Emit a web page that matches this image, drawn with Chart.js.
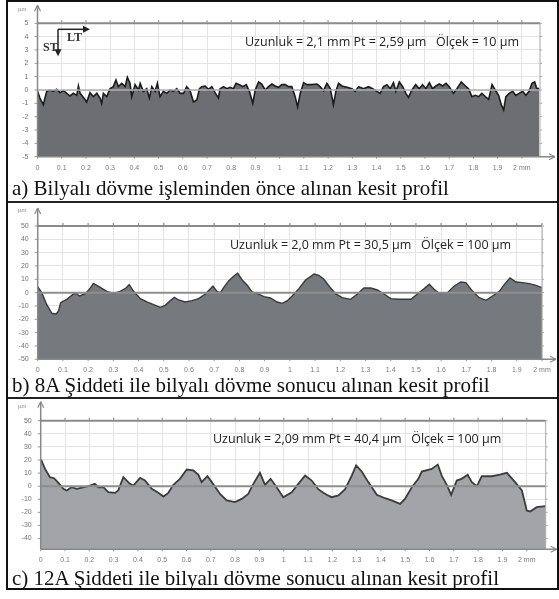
<!DOCTYPE html>
<html lang="tr">
<head>
<meta charset="utf-8">
<title>Kesit profilleri</title>
<script src="https://cdn.jsdelivr.net/npm/chart.js@4.4.1/dist/chart.umd.min.js"></script>
<style>
  html, body { margin: 0; padding: 0; background: #fff; }
  #page { position: relative; width: 559px; height: 599px; overflow: hidden; background: #fff; }
  .frame { position: absolute; left: 6px; top: 0; width: 549px; height: 586px; border: 2px solid #111; box-sizing: content-box; }
  .sep { position: absolute; left: 8px; width: 549px; height: 2px; background: #222; }
  .panel { position: absolute; left: 8px; }
  .cap { position: absolute; left: 12px; font-family: 'Liberation Serif', 'Times New Roman', serif; font-size: 21px; line-height: 21px; color: #111; white-space: nowrap; }
  .note { position: absolute; font-family: 'Open Sans', 'Noto Sans', sans-serif; font-size: 12.5px; line-height: 16px; color: #222; white-space: nowrap; }
  .unit { position: absolute; left: 18px; font-family: 'Liberation Sans', Arial, sans-serif; font-size: 6px; line-height: 6px; color: #888; }
  .dir { position: absolute; font-family: 'Liberation Serif', 'Times New Roman', serif; font-size: 12px; line-height: 12px; font-weight: bold; color: #333; }
</style>
</head>
<body>
<div id="page">
  <div class="frame"></div>
  <div class="sep" style="top:201px"></div>
  <div class="sep" style="top:397px"></div>

  <div class="panel" style="top:3px"><canvas id="chartA" width="550" height="172"></canvas></div>
  <div class="panel" style="top:204px"><canvas id="chartB" width="550" height="170"></canvas></div>
  <div class="panel" style="top:400px"><canvas id="chartC" width="550" height="168"></canvas></div>

  <div class="unit" style="top:6px">µm</div>
  <div class="unit" style="top:207px">µm</div>
  <div class="unit" style="top:403px">µm</div>

  <div class="dir" style="left:43px;top:41px">ST</div>
  <div class="dir" style="left:67px;top:31px">LT</div>

  <div class="note" style="left:245px;top:34px">Uzunluk = 2,1 mm Pt = 2,59 µm&nbsp;&nbsp; Ölçek = 10 µm</div>
  <div class="note" style="left:230px;top:237px">Uzunluk = 2,0 mm Pt = 30,5 µm&nbsp;&nbsp; Ölçek = 100 µm</div>
  <div class="note" style="left:213px;top:431px">Uzunluk = 2,09 mm Pt = 40,4 µm&nbsp;&nbsp; Ölçek = 100 µm</div>

  <div class="cap" style="top:178px">a) Bilyalı dövme işleminden önce alınan kesit profil</div>
  <div class="cap" style="top:375px">b) 8A Şiddeti ile bilyalı dövme sonucu alınan kesit profil</div>
  <div class="cap" style="top:568px">c) 12A Şiddeti ile bilyalı dövme sonucu alınan kesit profil</div>
</div>

<script>
// Position along the trace (mm) and surface height (µm) for each profile.
const profileA_mm = [0.000,0.010,0.024,0.038,0.052,0.065,0.079,0.093,0.107,0.121,0.134,0.148,0.162,0.169,0.176,0.189,0.203,0.217,0.231,0.245,0.258,0.265,0.272,0.286,0.300,0.313,0.324,0.334,0.348,0.362,0.371,0.382,0.389,0.403,0.417,0.424,0.437,0.451,0.462,0.472,0.486,0.495,0.506,0.520,0.534,0.548,0.561,0.575,0.589,0.603,0.616,0.630,0.644,0.658,0.669,0.678,0.692,0.706,0.720,0.733,0.747,0.754,0.768,0.782,0.795,0.809,0.820,0.834,0.848,0.862,0.875,0.889,0.899,0.913,0.926,0.940,0.954,0.968,0.981,0.995,1.009,1.023,1.036,1.050,1.064,1.074,1.085,1.099,1.112,1.133,1.154,1.167,1.181,1.195,1.209,1.222,1.232,1.243,1.257,1.278,1.298,1.312,1.326,1.346,1.367,1.384,1.401,1.415,1.429,1.443,1.457,1.470,1.480,1.494,1.508,1.521,1.532,1.546,1.562,1.576,1.590,1.604,1.618,1.631,1.645,1.659,1.673,1.687,1.700,1.718,1.732,1.750,1.767,1.780,1.794,1.808,1.822,1.835,1.849,1.863,1.877,1.890,1.904,1.915,1.925,1.934,1.948,1.962,1.975,1.989,2.003,2.017,2.030,2.042,2.053,2.062,2.072];
const profileA_um = [-0.1,-0.6,-1.1,-0.1,0,-0.1,0.05,-0.2,-0.05,-0.25,-0.45,-0.25,-0.4,0.3,-0.25,-0.55,-0.9,-0.2,-0.5,-0.25,-0.6,-1.0,-0.25,-0.5,0.1,0.25,0.75,0.25,0.5,0.25,0.95,0.5,-0.5,0.4,0,0.5,-0.1,0.1,-0.6,0.25,-0.1,0.5,-0.5,-0.1,-0.25,0,-0.1,0.1,-0.25,-0.25,0.25,-0.05,-0.9,-0.75,0.1,0.25,0.3,0.05,0.25,-0.2,-0.6,0.1,0.25,0.1,0.2,0.1,0.5,0.4,0.25,0.4,-0.1,-1.0,0,0.6,0.45,0,0.25,0.45,0.3,0.2,0.4,0.4,0.25,0.25,-0.5,-1.25,-0.25,0.55,0.4,0.4,0.45,0.25,-0.05,0.5,0.1,-1.1,-0.1,0.5,0.3,0.2,0.1,-0.1,0.25,0.1,0.25,0.1,-0.1,-0.25,0.25,0.4,0.1,0.55,-0.1,0.6,0.25,-0.25,-0.55,0,0.4,0.1,0.4,0.1,0.55,0.1,0.3,0.45,0.3,0.5,0.25,-0.25,0.1,0.6,0.3,0.1,-0.5,-0.4,-0.5,-0.25,-0.5,-0.7,0.4,0,-0.4,-1.1,-1.5,-0.5,-0.25,-0.1,-0.4,-0.25,-0.1,-0.4,-0.1,0.5,0.6,0.1,0.1];

const profileB_mm = [0.000,0.016,0.036,0.056,0.073,0.082,0.091,0.115,0.142,0.152,0.165,0.188,0.205,0.221,0.248,0.274,0.301,0.327,0.347,0.363,0.380,0.407,0.433,0.460,0.486,0.506,0.526,0.542,0.559,0.585,0.612,0.638,0.665,0.695,0.711,0.725,0.738,0.758,0.778,0.793,0.811,0.831,0.850,0.870,0.897,0.923,0.950,0.970,0.990,1.009,1.036,1.062,1.082,1.096,1.115,1.135,1.155,1.182,1.208,1.241,1.268,1.294,1.321,1.347,1.374,1.400,1.433,1.480,1.506,1.533,1.553,1.572,1.592,1.625,1.652,1.678,1.698,1.725,1.751,1.778,1.804,1.831,1.851,1.873,1.897,1.923,1.950,1.976,2.000];
const profileB_um = [4.5,0,-9,-15.5,-16,-14,-7.5,-5,-1,-0.5,-2.5,-1,2.5,7,4,1,-0.5,1,3,6,1,-4.5,-7,-9,-11,-9.5,-6,-3.5,-5.5,-7,-6,-4.5,-1,5,1,0,4,9,12.5,14.5,9.5,5.5,0.5,-0.5,-3,-4,-7,-8,-6,-2.5,3,9.5,12,14,13,10,5,-1,-3.75,-5,-1,3.5,3.5,2,-1,-4.5,-5,-5,-1,3,6.25,2.5,-0.5,0,5,8,7.5,1,-3.75,-5.75,-2.5,1,6.25,11,8,7.5,6.75,5.5,3.75];

const profileC_mm = [0.001,0.018,0.038,0.055,0.073,0.093,0.107,0.127,0.148,0.175,0.203,0.223,0.237,0.258,0.278,0.306,0.319,0.340,0.367,0.381,0.409,0.429,0.457,0.484,0.505,0.525,0.546,0.573,0.601,0.628,0.649,0.662,0.686,0.704,0.738,0.765,0.800,0.827,0.854,0.875,0.902,0.923,0.946,0.971,0.998,1.033,1.060,1.088,1.115,1.143,1.163,1.177,1.197,1.225,1.252,1.280,1.298,1.321,1.348,1.383,1.417,1.444,1.479,1.499,1.527,1.554,1.568,1.609,1.634,1.650,1.671,1.689,1.712,1.732,1.757,1.774,1.795,1.815,1.856,1.890,1.918,1.952,1.980,2.000,2.014,2.041,2.078];
const profileC_um = [20.4,13.2,6.9,6.1,2.5,-2,-3.3,-0.8,-2,-1,0.5,1.8,-0.8,-0.8,-4.6,-5.1,-3.3,6.9,1.8,0.5,6.4,4.3,-2,-5.1,-7.9,-5.1,1,5.6,12.7,12,8.7,3.1,7.6,3.1,-5.9,-10.9,-12.2,-9.7,-5.9,1.8,10.2,1,5.6,-0.8,-8.4,-4.6,1.8,8.1,4.3,-2.5,-5.1,-6.6,-8.4,-7.1,-2.5,8.1,15.8,11.2,3.1,-6.6,-9.2,-10.9,-13.5,-9.7,-0.8,5.6,11.2,13.2,16.5,8.1,1,-6.6,4.3,5.6,8.7,3.1,0,7.6,7.6,8.9,10.2,3.1,-3.3,-18.6,-19.3,-16,-15.3];

// Axis ticks
const xTicksMm = [0,0.1,0.2,0.3,0.4,0.5,0.6,0.7,0.8,0.9,1,1.1,1.2,1.3,1.4,1.5,1.6,1.7,1.8,1.9,2];
const yTicksA = [5,4,3,2,1,0,-1,-2,-3,-4,-5];
const yTicksB = [50,40,30,20,10,0,-10,-20,-30,-40,-50];
const yTicksC = [50,40,30,20,10,0,-10,-20,-30,-40];

function xLabel(v) {
  if (Math.abs(v - 2) < 1e-9) return '2 mm';
  return String(Math.round(v * 10) / 10);
}

function seg(ctx, x1, y1, x2, y2, color, w) {
  ctx.beginPath();
  ctx.moveTo(x1, y1);
  ctx.lineTo(x2, y2);
  ctx.strokeStyle = color;
  ctx.lineWidth = w;
  ctx.stroke();
}

// Instrument-style frame: top/right borders, arrowed axes, zero line and tick marks.
const framePlugin = {
  id: 'frame',
  afterDatasetsDraw(chart, args, o) {
    const { ctx, chartArea: a, scales: { x, y } } = chart;
    ctx.save();
    const y0 = y.getPixelForValue(0);
    seg(ctx, a.left, y0, a.right, y0, o.zeroColor, o.zeroWidth);
    seg(ctx, a.left, a.top, a.right, a.top, '#8a8a8a', 2);
    seg(ctx, a.right, a.top, a.right, a.bottom, '#a8a8a8', 1);
    x.ticks.forEach(t => {
      const px = x.getPixelForValue(t.value);
      seg(ctx, px, a.top - 3, px, a.top - 1, '#8a8a8a', 1.2);
      seg(ctx, px, a.bottom, px, a.bottom + 2, '#999', 1);
    });
    y.ticks.forEach(t => {
      const py = y.getPixelForValue(t.value);
      seg(ctx, a.right, py, a.right + 2, py, '#aaa', 1);
      seg(ctx, a.left - 3, py, a.left, py, '#999', 1);
    });
    // x axis with open arrow head
    const ax = a.right + o.arrowX;
    seg(ctx, a.left, a.bottom, ax, a.bottom, '#888', 1.5);
    seg(ctx, ax - 6, a.bottom - 3, ax, a.bottom, '#888', 1.2);
    seg(ctx, ax - 6, a.bottom + 3, ax, a.bottom, '#888', 1.2);
    // y axis with open arrow head
    const ay = a.top - o.arrowY;
    seg(ctx, a.left, a.bottom, a.left, ay, '#888', 1.5);
    seg(ctx, a.left - 3, ay + 6, a.left, ay, '#888', 1.2);
    seg(ctx, a.left + 3, ay + 6, a.left, ay, '#888', 1.2);
    if (o.dirs) {
      // ST (down) / LT (right) orientation marks
      const ox = a.left + 20.5, oy = a.top + 6;
      ctx.fillStyle = '#222';
      seg(ctx, ox, oy, ox, oy + 22, '#222', 1.5);
      seg(ctx, ox, oy, ox + 27, oy, '#222', 1.5);
      ctx.beginPath();
      ctx.moveTo(ox - 3.5, oy + 20); ctx.lineTo(ox + 3.5, oy + 20); ctx.lineTo(ox, oy + 27); ctx.closePath(); ctx.fill();
      ctx.beginPath();
      ctx.moveTo(ox + 25, oy - 3.5); ctx.lineTo(ox + 25, oy + 3.5); ctx.lineTo(ox + 32, oy); ctx.closePath(); ctx.fill();
    }
    ctx.restore();
  }
};

function profileChart(id, xs, ys, yTicks, p) {
  const tickFont = { family: "'Liberation Sans', Arial, sans-serif", size: 7 };
  return new Chart(document.getElementById(id), {
    type: 'line',
    data: {
      datasets: [{
        data: xs.map((v, i) => ({ x: v, y: ys[i] })),
        borderColor: p.line,
        borderWidth: p.lw,
        backgroundColor: p.fill,
        fill: 'start',
        pointRadius: 0,
        tension: 0
      }]
    },
    options: {
      responsive: false,
      animation: false,
      events: [],
      layout: { padding: { top: p.top, right: p.right, left: 0, bottom: 0 } },
      plugins: {
        legend: { display: false },
        tooltip: { enabled: false },
        frame: { zeroColor: p.zeroColor, zeroWidth: p.zeroWidth, arrowX: p.arrowX, arrowY: p.arrowY, dirs: p.dirs }
      },
      scales: {
        x: {
          type: 'linear', min: 0, max: p.xMax,
          afterFit: s => { s.height = p.bottom; },
          afterBuildTicks: s => { s.ticks = xTicksMm.filter(v => v <= p.xMax + 1e-9).map(v => ({ value: v })); },
          ticks: { callback: v => xLabel(v), font: tickFont, color: '#7a7a7a', maxRotation: 0, autoSkip: false, padding: 7 },
          grid: { color: '#e4e4e4', lineWidth: 1, drawTicks: false },
          border: { display: false }
        },
        y: {
          type: 'linear', min: p.yMin, max: p.yMax,
          afterFit: s => { s.width = p.left; },
          afterBuildTicks: s => { s.ticks = yTicks.map(v => ({ value: v })); },
          ticks: { callback: v => String(v), font: tickFont, color: '#737373', padding: 9 },
          grid: { color: '#e4e4e4', lineWidth: 1, drawTicks: false },
          border: { display: false }
        }
      }
    },
    plugins: [framePlugin]
  });
}

profileChart('chartA', profileA_mm, profileA_um, yTicksA, {
  xMax: 2.075, yMin: -5, yMax: 5, left: 29.5, top: 20.3, right: 18, bottom: 18.3,
  line: '#1c1c1c', lw: 1.6, fill: '#6c6e72', zeroColor: '#b0b0b0', zeroWidth: 1.5,
  arrowX: 15, arrowY: 18, dirs: true
});
profileChart('chartB', profileB_mm, profileB_um, yTicksB, {
  xMax: 2.0, yMin: -50, yMax: 50, left: 29.7, top: 22, right: 16, bottom: 14.7,
  line: '#3a3a3a', lw: 1.4, fill: '#76797d', zeroColor: '#8e8e8e', zeroWidth: 2,
  arrowX: 14, arrowY: 18, dirs: false
});
profileChart('chartC', profileC_mm, profileC_um, yTicksC, {
  xMax: 2.078, yMin: -48.2, yMax: 50, left: 32.7, top: 20.7, right: 12.3, bottom: 18.7,
  line: '#3c3c3c', lw: 1.8, fill: '#a2a4a7', zeroColor: '#8e8e8e', zeroWidth: 2,
  arrowX: 11, arrowY: 19, dirs: false
});
</script>
</body>
</html>
